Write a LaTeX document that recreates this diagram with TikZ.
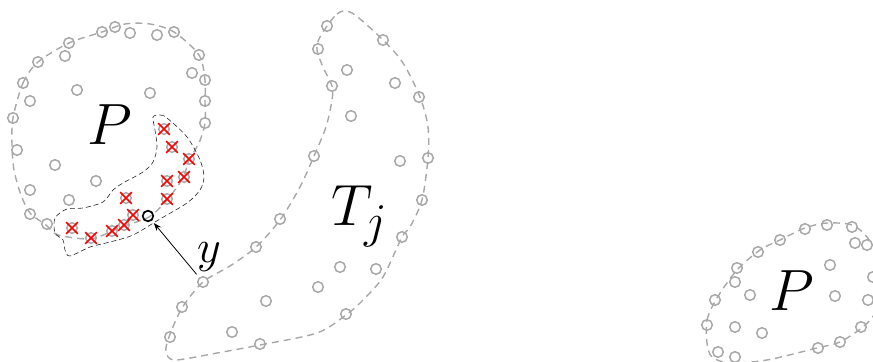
\documentclass[tikz,border=0pt]{standalone}
\usetikzlibrary{arrows.meta,shapes.misc}
\definecolor{ptgray}{RGB}{168,168,168}
\definecolor{hitred}{RGB}{255,0,0}
\tikzset{
  pt/.style={circle, draw=ptgray, line width=0.75pt, minimum size=5.3pt, inner sep=0pt},
  hit/.style={cross out, draw=hitred, line width=0.85pt, minimum size=5pt, inner sep=0pt},
  sel/.style={circle, draw=black, line width=0.85pt, minimum size=5.3pt, inner sep=0pt},
  blob/.style={draw=ptgray, line width=0.7pt, dash pattern=on 3.5pt off 2.5pt},
  region/.style={draw=black!85, line width=0.3pt, dash pattern=on 2.5pt off 1.5pt},
  biglbl/.style={font=\Huge, scale=1.17, inner sep=0pt},
  lbl/.style={font=\Huge, scale=0.93, inner sep=0pt},
  arr/.style={-{Stealth[length=4pt,width=3pt]}, line width=0.4pt}
}

\begin{document}
\begin{tikzpicture}[x=0.5pt, y=-0.5pt]
        \path[use as bounding box] (0,0) rectangle (873,362);
        \clip (0,0) rectangle (873,362);

        % outlines
        \draw[blob] plot[smooth cycle] coordinates {(13,118) (23,83) (38,62) (69,43) (102,32)
          (125,24) (150,24) (174,32) (199,55) (205,80) (205,101) (205,123) (199,143) (189,160)
          (183,178) (167,200) (149,217) (124,226) (110,232) (90,239) (58,235) (46,225)
          (30,213) (21,195) (14,170) (12,145)};
        \draw[blob] plot[smooth cycle] coordinates {(320,37) (337,14) (352,13) (383,40) (403,63)
          (420,97) (428,127) (428,158) (422,200) (410,227) (402,237) (383,277) (363,300)
          (346,315) (317,333) (260,345) (217,353) (175,360) (166,352) (169,337) (182,308)
          (203,282) (230,266) (256,247) (280,220) (300,187) (314,156) (326,127) (332,100)
          (332,86) (323,67) (317,50)};
        \draw[blob] plot[smooth cycle] coordinates {(707,343) (707,320) (717,298) (737,270)
          (760,250) (780,240) (805,228) (827,223) (852,225) (867,237) (882,262) (885,295)
          (874,315) (863,327) (840,342) (817,348) (767,360) (730,363) (712,357)};
        \draw[region] plot[smooth cycle] coordinates {(153,117) (160,115) (167,118) (187,137)
          (200,160) (204,177) (200,190) (187,203) (160,219) (133,235) (110,242) (90,247)
          (70,256) (65,250) (63,240) (55,233) (55,218) (67,209) (83,208) (103,202) (113,190)
          (123,183) (143,172) (153,162) (157,147) (155,130)};

        % points
        \foreach \x/\y [count=\i] in {115/27, 102/32, 130/33, 157/35, 174/32, 69/43, 65/56,
          38/62, 199/55, 192/73, 205/80, 23/83, 30/101, 77/90, 150/93, 205/101, 13/118,
          205/123, 17/150, 55/165, 30/190, 96/181, 69/200, 30/214, 47/224}
          \node[pt] (p\i) at (\x,\y) {};
        \foreach \x/\y [count=\i] in {164/129, 172/147, 189/159, 184/177, 167/181, 167/199,
          126/198, 133/215, 124/225, 112/231, 91/238, 72/228} {
          \node[pt] (hp\i) at (\x,\y) {};
          \node[hit] (hx\i) at (\x,\y) {};
        }
        \foreach \x/\y [count=\i] in {327/26, 383/40, 318/49, 347/70, 395/83, 332/86, 419/97,
          351/116, 314/156, 400/161, 428/158, 422/200, 402/237, 280/219, 256/247, 340/267,
          376/269, 318/287, 266/301, 182/307, 346/314, 232/332, 260/344, 170/337}
          \node[pt] (t\i) at (\x,\y) {};
        \foreach \x/\y [count=\i] in {827/225, 852/227, 805/229, 855/243, 867/245, 780/240,
          758/252, 830/265, 737/268, 735/282, 750/295, 835/296, 868/300, 873/277, 715/300,
          707/325, 735/327, 762/333, 861/327, 840/342, 818/348, 718/352, 735/357}
          \node[pt] (q\i) at (\x,\y) {};

        \node[pt] (ypt) at (203,282) {};
        \node[sel] (ysel) at (148,216) {};
        \draw[arr, shorten <=2pt, shorten >=1.5pt] (ypt) -- (ysel);

        % labels
        \node[biglbl] (plbl) at (110,125) {$P$};
        \node[biglbl] (tlbl) at (360,216) {$T_j$};
        \node[lbl] (ylbl) at (209,257) {$y$};
        \node[biglbl] (qlbl) at (792,291) {$P$};
      \end{tikzpicture}
\end{document}
